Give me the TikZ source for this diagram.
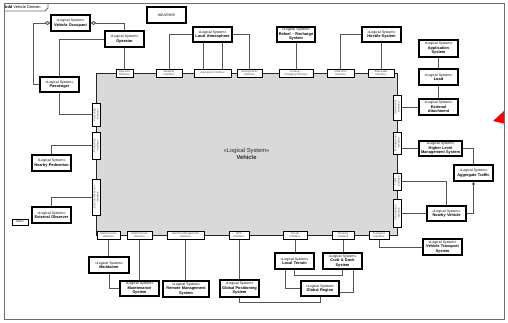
\documentclass[tikz,border=0pt]{standalone}
\usepackage{fontspec}
\setmainfont{Liberation Sans}
\usetikzlibrary{arrows.meta}
\definecolor{linec}{RGB}{85,85,85}
\definecolor{vehgray}{RGB}{217,217,217}
\definecolor{framec}{RGB}{110,110,110}
\newcommand\stlab{{\fontsize{3.5}{4.4}\selectfont «Logical System»}}
\tikzset{
  sysbox/.style={draw=black, line width=1.2pt, fill=white, inner sep=0pt, align=center,
    font=\fontsize{3.9}{4.4}\selectfont},
  ifbox/.style={draw=black, line width=1pt, fill=white, inner sep=0pt, align=center,
    font=\fontsize{2.8}{3.2}\selectfont, text=black!70, minimum height=8pt},
  conn/.style={draw=linec, line width=0.9pt},
  aggtip/.style={{Diamond[fill=white,length=6pt,width=4pt]}-},
}
\begin{document}
\begin{tikzpicture}[x=1pt,y=-1pt]
\useasboundingbox (0,0) rectangle (508,322);
% red marker
\fill[red] (493,121) -- (504,111) -- (504,123.5) -- cycle;
% frame
\draw[framec, line width=1pt] (4,3) rectangle (504,319);
\draw[framec, line width=0.8pt] (4,11) -- (45,11) -- (48,8) -- (48,3);
\node[anchor=west, inner sep=0pt, font=\fontsize{3.9}{4.4}\selectfont] (title) at (5,7.2) {\textbf{bdd} Vehicle Domain};
% vehicle
\node[draw=black!85, line width=1pt, fill=vehgray, minimum width=301pt, minimum height=162pt,
  inner sep=0pt, align=center, font=\fontsize{5.8}{7}\selectfont, text=black!85] (veh) at (246.5,154)
  {«Logical System»\\\textbf{Vehicle}};
% systems
\node[sysbox, minimum width=39pt, minimum height=16pt, text width=38pt] (vo) at (70.5,23) {\stlab\\\textbf{Vehicle Occupant}};
\node[sysbox, minimum width=39pt, minimum height=16pt, text width=38pt] (opr) at (124.5,39) {\stlab\\\textbf{Operator}};
\node[sysbox, minimum width=39pt, minimum height=15pt, text width=38pt] (pas) at (59.5,84.5) {\stlab\\\textbf{Passenger}};
\node[sysbox, minimum width=39pt, minimum height=16pt, text width=38pt, font=\fontsize{3.5}{4}\selectfont] (wea) at (166.5,15) {WEATHER};
\node[sysbox, minimum width=39pt, minimum height=15pt, text width=38pt] (atm) at (212.5,34.5) {\stlab\\\textbf{Local Atmosphere}};
\node[sysbox, minimum width=38pt, minimum height=15pt, text width=37pt] (ref) at (296,34.5) {\stlab\\\textbf{Refuel – Recharge}\\\textbf{System}};
\node[sysbox, minimum width=39pt, minimum height=15pt, text width=38pt] (hos) at (381.5,34.5) {\stlab\\\textbf{Hostile System}};
\node[sysbox, minimum width=39pt, minimum height=17pt, text width=38pt] (app) at (438.5,48.5) {\stlab\\\textbf{Application}\\\textbf{System}};
\node[sysbox, minimum width=39pt, minimum height=16pt, text width=38pt] (load) at (438.5,77) {\stlab\\\textbf{Load}};
\node[sysbox, minimum width=39pt, minimum height=16pt, text width=38pt] (ext) at (438.5,107) {\stlab\\\textbf{External}\\\textbf{Attachment}};
\node[sysbox, minimum width=43pt, minimum height=15pt, text width=42pt] (hlm) at (440.5,148.5) {\stlab\\\textbf{Higher Level}\\\textbf{Management System}};
\node[sysbox, minimum width=39pt, minimum height=16pt, text width=38pt] (agg) at (473.5,173) {\stlab\\\textbf{Aggregate Traffic}};
\node[sysbox, minimum width=39pt, minimum height=15pt, text width=38pt] (nv) at (446.5,213.5) {\stlab\\\textbf{Nearby Vehicle}};
\node[sysbox, minimum width=39pt, minimum height=16pt, text width=38pt] (vts) at (442.5,247) {\stlab\\\textbf{Vehicle Transport}\\\textbf{System}};
\node[sysbox, minimum width=39pt, minimum height=16pt, text width=38pt] (cds) at (342.5,261) {\stlab\\\textbf{Curb \& Dock}\\\textbf{System}};
\node[sysbox, minimum width=39pt, minimum height=16pt, text width=38pt] (lt) at (294.5,261) {\stlab\\\textbf{Local Terrain}};
\node[sysbox, minimum width=38pt, minimum height=15pt, text width=37pt] (gr) at (320,288.5) {\stlab\\\textbf{Global Region}};
\node[sysbox, minimum width=39pt, minimum height=17pt, text width=38pt] (gps) at (239.5,288.5) {\stlab\\\textbf{Global Positioning}\\\textbf{System}};
\node[sysbox, minimum width=46pt, minimum height=16pt, text width=45pt] (rms) at (186,289) {\stlab\\\textbf{Remote Management}\\\textbf{System}};
\node[sysbox, minimum width=39pt, minimum height=15pt, text width=38pt] (ms) at (139.5,288.5) {\stlab\\\textbf{Maintenance}\\\textbf{System}};
\node[sysbox, minimum width=40pt, minimum height=16pt, text width=39pt] (mt) at (109,265) {\stlab\\\textbf{Maintainer}};
\node[sysbox, minimum width=39pt, minimum height=16pt, text width=38pt] (eo) at (51.5,215) {\stlab\\\textbf{External Observer}};
\node[sysbox, minimum width=39pt, minimum height=16pt, text width=38pt] (np) at (51.5,163) {\stlab\\\textbf{Nearby Pedestrian}};
\node[sysbox, line width=0.9pt, minimum width=16pt, minimum height=6pt, text width=15pt, font=\fontsize{2.6}{3}\selectfont] (oth) at (20,222) {Others};
% interfaces top
\node[ifbox, minimum width=17pt] (iop) at (124.5,73) {Operator\\Interface};
\node[ifbox, minimum width=26pt] (iwe) at (169,73) {Weather\\Interface};
\node[ifbox, minimum width=37pt] (ias) at (212.5,73) {Aspiration Interface};
\node[ifbox, minimum width=25pt] (iae) at (249.5,73) {Aerodynamic\\Interface};
\node[ifbox, minimum width=34pt] (ifc) at (296,73) {Fueling –\\Charging Interface};
\node[ifbox, minimum width=27pt] (ide) at (340.5,73) {Detection\\Interface};
\node[ifbox, minimum width=26pt] (iat) at (381,73) {Attackable\\Interface};
% interfaces bottom
\node[ifbox, minimum width=23pt] (im1) at (108.5,235) {Maintenance\\Interface};
\node[ifbox, minimum width=25pt] (im2) at (139.5,235) {Maintenance\\Interface};
\node[ifbox, minimum width=37pt] (irm) at (185.5,235) {Remote Management\\Interface};
\node[ifbox, minimum width=20pt] (igps) at (239,235) {GPS\\Interface};
\node[ifbox, minimum width=24pt] (ite) at (295,235) {Terrain\\Interface};
\node[ifbox, minimum width=22pt] (ido) at (343,235) {Docking\\Interface};
\node[ifbox, minimum width=20pt] (itr) at (379,235) {Transport\\Interface};
% interfaces left
\node[ifbox, rotate=90, minimum width=23pt] (ipa) at (96,114.5) {Passenger\\Interface};
\node[ifbox, rotate=90, minimum width=27pt] (ipe) at (96,145.5) {Pedestrian\\Interface};
\node[ifbox, rotate=90, minimum width=36pt] (ieo) at (96,197) {External Observer\\Interface};
% interfaces right
\node[ifbox, rotate=90, minimum width=25pt] (iea) at (397,107.5) {Attachment\\Interface};
\node[ifbox, rotate=90, minimum width=22pt] (ihl) at (397,143) {Management\\Interface};
\node[ifbox, rotate=90, minimum width=17pt] (itf) at (397,181.5) {Traffic\\Interface};
\node[ifbox, rotate=90, minimum width=28pt] (ico) at (397,213) {Cooperation\\Interface};
% connectors
\draw[conn, aggtip] (vo.west) -- ++(-17,0) |- (pas.west);
\draw[conn, aggtip] (vo.east) -| (opr.north);
\draw[conn] (opr.west) -| (pas.north);
\draw[conn] (pas.south) |- (ipa.north);
\draw[conn] (opr.south) -- (opr.south |- iop.north);
\draw[conn] (atm.west) -| (iwe.north);
\draw[conn] ([xshift=-9.5pt]atm.south) -- ++(0,27);
\draw[conn] ([xshift=9.5pt]atm.south) -- ++(0,27);
\draw[conn] (atm.east) -| (iae.north);
\draw[conn] (ref.south) -- (ref.south |- ifc.north);
\draw[conn] (hos.west) -| (ide.north);
\draw[conn] (hos.south) -- (hos.south |- iat.north);
\draw[conn] (app.south) -- (load.north);
\draw[conn] (load.south) -- (ext.north);
\draw[conn] (ext.west) -- (ext.west -| iea.south);
\draw[conn] (hlm.west) -- (hlm.west -| ihl.south);
\draw[conn] (hlm.east) -| (agg.north);
\draw[conn, -{Triangle[length=3pt,width=3pt]}] (nv.east) -| (agg.south);
\draw[conn] (itf.south) -| (nv.north);
\draw[conn] (nv.west) -- (nv.west -| ico.south);
\draw[conn] (itr.south) |- (vts.west);
\draw[conn] (ido.south) -- (ido.south |- cds.north);
\draw[conn] (ite.south) -- (ite.south |- lt.north);
\draw[conn] (lt.south) -- ++(0,6) -| (cds.south);
\draw[conn] ([xshift=-9.5pt]lt.south) |- (gr.west);
\draw[conn] ([xshift=10.5pt]cds.south) |- ([yshift=-3.5pt]gr.east);
\draw[conn] (igps.south) -- (igps.south |- gps.north);
\draw[conn] (gps.south) -- ++(0,5) -| (gr.south);
\draw[conn] (irm.south) -- (irm.south |- rms.north);
\draw[conn] (im1.south) -- (im1.south |- mt.north);
\draw[conn] (mt.south) |- (ms.west);
\draw[conn] (im2.south) -- (ms.north);
\draw[conn] (np.north) |- (ipe.north);
\draw[conn] (eo.north) |- (ieo.north);
\end{tikzpicture}
\end{document}
